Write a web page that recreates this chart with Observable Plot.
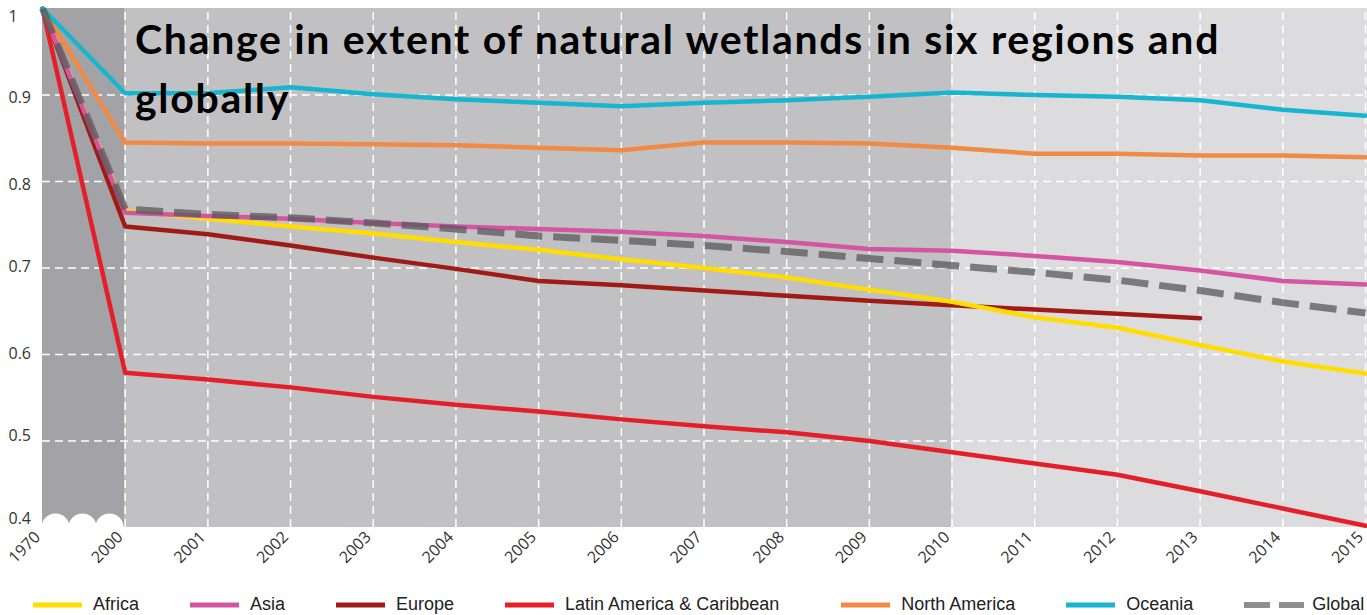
<!DOCTYPE html>
<html><head><meta charset="utf-8">
<script src="https://cdn.jsdelivr.net/npm/d3@7"></script>
<script src="https://cdn.jsdelivr.net/npm/@observablehq/plot@0.6"></script>
<style>
body{margin:0;background:#fff;font-family:"Open Sans",sans-serif;}
#wrap{position:relative;width:1367px;}
#title{position:absolute;left:135px;top:9px;font-family:Lato,"Open Sans",sans-serif;font-weight:bold;font-size:41px;letter-spacing:1.7px;line-height:59px;color:#000;white-space:nowrap;}
#legend{display:flex;align-items:center;padding-left:33px;height:25px;margin-top:2px;font-family:"Liberation Sans",Arial,sans-serif;font-size:18px;color:#222;white-space:nowrap;}
#legend .item{display:flex;align-items:center;margin-right:51px;flex-shrink:0;}
#legend .item.wide{margin-right:62px;}
#legend svg{margin-right:11px;flex-shrink:0;}
</style></head><body>
<div id="wrap"><div id="chart"></div><div id="title">Change in extent of natural wetlands in six regions and<br>globally</div></div>
<div id="legend"></div>
<script>
const years = ["1970","2000","2001","2002","2003","2004","2005","2006","2007","2008","2009","2010","2011","2012","2013","2014","2015"];
const africa = [1.0,0.766,0.757,0.748,0.740,0.730,0.721,0.710,0.700,0.689,0.675,0.661,0.643,0.631,0.611,0.592,0.578];
const asia = [1.0,0.764,0.760,0.757,0.752,0.748,0.745,0.742,0.737,0.730,0.722,0.720,0.714,0.707,0.697,0.685,0.681];
const europe = [1.0,0.748,0.739,0.726,0.712,0.699,0.685,0.680,0.674,0.668,0.662,0.657,0.652,0.647,0.642,null,null];
const latinAmerica = [1.0,0.579,0.571,0.562,0.551,0.542,0.534,0.525,0.517,0.510,0.500,0.487,0.474,0.461,0.442,0.422,0.402];
const northAmerica = [1.0,0.845,0.844,0.844,0.843,0.842,0.839,0.836,0.845,0.845,0.844,0.839,0.832,0.832,0.830,0.830,0.828];
const oceania = [1.0,0.902,0.902,0.909,0.901,0.895,0.891,0.887,0.891,0.894,0.898,0.903,0.900,0.898,0.894,0.883,0.876];
const global = [1.0,0.768,0.762,0.758,0.752,0.745,0.737,0.732,0.726,0.719,0.711,0.703,0.695,0.686,0.674,0.660,0.648];
const gridY = [0.5,0.6,0.7,0.8,0.9];
// y tick labels, grouped by the small vertical nudge the original applies to them
const yTickGroups = [
  {ticks:[1], dy:8},
  {ticks:[0.9,0.8], dy:3},
  {ticks:[0.7,0.6], dy:-1},
  {ticks:[0.5], dy:-5},
  {ticks:[0.4], dy:-9}
];

const series = [
  {name:"Africa", values:africa, color:"#FFDD00"},
  {name:"Asia", values:asia, color:"#D455A2"},
  {name:"Europe", values:europe, color:"#A11B16"},
  {name:"Latin America & Caribbean", values:latinAmerica, color:"#E51F2A"},
  {name:"North America", values:northAmerica, color:"#F08A45"},
  {name:"Oceania", values:oceania, color:"#17B5CE"},
  {name:"Global", values:global, color:"#5a5a5c", dashed:true}
];
const rows = s => years.map((y,i)=>({year:y, value:s.values[i]})).filter(d=>d.value!=null);

const zones = [
  {x1:"1970", x2:"2000", fill:"#a3a3a7"},
  {x1:"2000", x2:"2010", fill:"#c1c1c3"},
  {x1:"2010", x2:"2015", fill:"#dcdcde"}
];

const drawOrder = ["Europe","Latin America & Caribbean","Africa","Asia","North America","Oceania","Global"];

const marks = [];
zones.forEach(z => marks.push(Plot.rect([z], {x1:"x1", x2:"x2", y1:0.4, y2:1, fill:z.fill, insetRight: z.x2==="2015" ? -2 : 0})));
[13,40,67].forEach(dx => marks.push(Plot.dot([{year:"1970", v:0.4}], {x:"year", y:"v", r:14, fill:"#fff", stroke:null, dx, dy:0})));
marks.push(Plot.ruleY(gridY, {stroke:"#fff", strokeWidth:1.5, strokeDasharray:"8,5"}));
marks.push(Plot.ruleX(years.slice(1), {y1:0.4, y2:1, stroke:"#fff", strokeWidth:1.5, strokeDasharray:"8,5"}));
drawOrder.forEach(n => {
  const s = series.find(d=>d.name===n);
  marks.push(Plot.line(rows(s), {x:"year", y:"value", stroke:s.color,
    strokeWidth: s.dashed ? 7 : 4.5,
    strokeDasharray: s.dashed ? "27,11" : null,
    strokeOpacity: s.dashed ? 0.75 : 1,
    strokeLinejoin:"round", strokeLinecap: s.dashed ? "butt" : "round"}));
});
marks.push(Plot.axisX({tickRotate:-45, tickSize:0, tickPadding:7, dx:-5, fill:"#333", fontSize:16}));
yTickGroups.forEach(g => marks.push(Plot.axisY({ticks:g.ticks, tickFormat:d=>String(+d.toFixed(1)), tickSize:0, tickPadding:0, textAnchor:"start", dx:-34, dy:g.dy, fill:"#333", fontSize:16})));

const chart = Plot.plot({
  width:1367, height:590,
  marginLeft:42, marginRight:2, marginTop:8, marginBottom:63,
  style:{fontFamily:"'Open Sans',sans-serif", background:"transparent", overflow:"visible"},
  x:{type:"point", domain:years, range:[42,1365], padding:0, round:false, label:null},
  y:{domain:[0.4,1], label:null},
  marks
});
document.getElementById("chart").append(chart);

const legend = d3.select("#legend");
series.forEach(s => {
  const it = legend.append("div").attr("class", s.name.length > 20 ? "item wide" : "item");
  const sw = it.append("svg").attr("width",49).attr("height",8);
  if (s.dashed) {
    sw.append("rect").attr("x",0).attr("y",1).attr("width",26).attr("height",6).attr("fill","#8e8e90");
    sw.append("rect").attr("x",35).attr("y",1).attr("width",25).attr("height",6).attr("fill","#8e8e90");
    sw.attr("width",60).style("margin-right","8px");
  } else {
    sw.append("rect").attr("x",0).attr("y",1.5).attr("width",49).attr("height",5).attr("fill",s.color);
  }
  it.append("span").text(s.name);
});
</script>
</body></html>
